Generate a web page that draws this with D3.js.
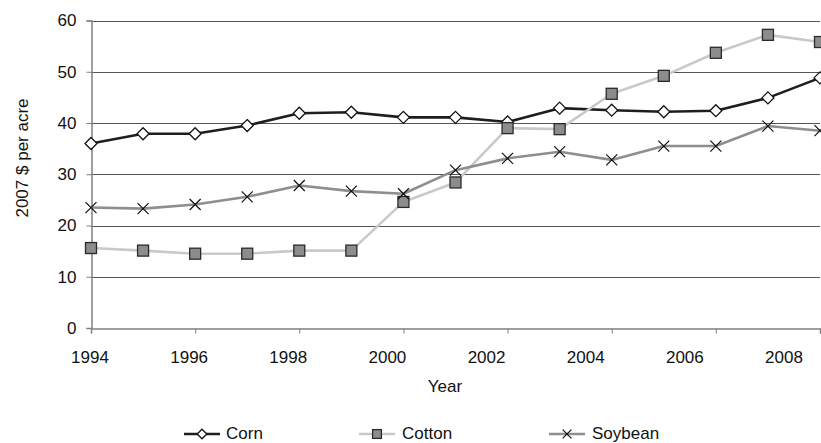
<!DOCTYPE html>
<html>
<head>
<meta charset="utf-8">
<script src="https://cdn.jsdelivr.net/npm/d3@7"></script>
<style>
  html, body { margin: 0; padding: 0; background: #fff; }
  svg { display: block; font-family: "Liberation Sans", Arial, sans-serif; }
</style>
</head>
<body>
<svg id="chart" width="821" height="443"></svg>
<script>
// Crop production costs, 2007 dollars per acre
const years = [1994, 1995, 1996, 1997, 1998, 1999, 2000, 2001, 2002, 2003, 2004, 2005, 2006, 2007, 2008];
const corn = [36.0, 37.9, 37.9, 39.5, 41.9, 42.1, 41.1, 41.1, 40.2, 42.9, 42.5, 42.2, 42.4, 44.9, 48.8];
const cotton = [15.6, 15.1, 14.5, 14.5, 15.1, 15.1, 24.6, 28.4, 39.0, 38.8, 45.7, 49.2, 53.7, 57.2, 55.8];
const soybean = [23.5, 23.3, 24.1, 25.6, 27.8, 26.7, 26.2, 30.8, 33.1, 34.4, 32.8, 35.5, 35.5, 39.4, 38.5];
const yTicks = [0, 10, 20, 30, 40, 50, 60];
const xTickYears = [1994, 1996, 1998, 2000, 2002, 2004, 2006, 2008];

const series = [
  { name: "Corn", values: corn, line: "#1e1e1e", marker: "diamond" },
  { name: "Cotton", values: cotton, line: "#c9c9c9", marker: "square" },
  { name: "Soybean", values: soybean, line: "#8e8e8e", marker: "cross" }
];

const svg = d3.select("#chart");
const plotLeft = 91, plotRight = 820, plotTop = 20.5, plotBottom = 328;

const x = d3.scaleLinear().domain([1994, 2008]).range([plotLeft, plotRight]);
const xLabel = d3.scaleLinear().domain([1994, 2008]).range([90, 784]);
const y = d3.scaleLinear().domain([0, 60]).range([plotBottom, plotTop]);

// horizontal gridlines
svg.append("g")
  .selectAll("line")
  .data(yTicks.filter(d => d > 0))
  .join("line")
  .attr("x1", plotLeft).attr("x2", plotRight)
  .attr("y1", d => Math.round(y(d)) + 0.5).attr("y2", d => Math.round(y(d)) + 0.5)
  .attr("stroke", "#555")
  .attr("stroke-width", 1);

// y axis
const yAxis = svg.append("g")
  .attr("transform", `translate(${plotLeft + 0.5},0)`)
  .call(d3.axisLeft(y).tickValues(yTicks).tickSize(5).tickPadding(10));
yAxis.select(".domain").attr("stroke", "#808080").attr("stroke-width", 1.5);
yAxis.selectAll(".tick line").attr("stroke", "#808080");
yAxis.selectAll(".tick text").attr("font-size", 17).attr("fill", "#111")
  .attr("font-family", "Liberation Sans, Arial, sans-serif");

// x axis: ticks on categories, labels placed on their own scale
const xAxis = svg.append("g")
  .attr("transform", `translate(0,${plotBottom + 0.5})`)
  .call(d3.axisBottom(x).tickValues(xTickYears).tickSize(5).tickFormat(""));
xAxis.select(".domain").attr("stroke", "#808080").attr("stroke-width", 1.5);
xAxis.selectAll(".tick line").attr("stroke", "#808080");

svg.append("g")
  .selectAll("text")
  .data(xTickYears)
  .join("text")
  .attr("x", d => xLabel(d))
  .attr("y", 363)
  .attr("text-anchor", "middle")
  .attr("font-size", 17)
  .attr("fill", "#111")
  .text(d => d);

// axis titles
svg.append("text")
  .attr("transform", "translate(28,158) rotate(-90)")
  .attr("text-anchor", "middle")
  .attr("font-size", 17)
  .attr("fill", "#111")
  .text("2007 $ per acre");

svg.append("text")
  .attr("x", 445).attr("y", 392)
  .attr("text-anchor", "middle")
  .attr("font-size", 17)
  .attr("fill", "#111")
  .text("Year");

// marker drawing
function drawMarker(g, type, cx, cy, scale) {
  const s = scale || 1;
  if (type === "diamond") {
    const r = 6 * s;
    g.append("path")
      .attr("d", `M${cx},${cy - r}L${cx + r},${cy}L${cx},${cy + r}L${cx - r},${cy}Z`)
      .attr("fill", "#fff").attr("stroke", "#111").attr("stroke-width", 1.3);
  } else if (type === "square") {
    const h = 5.5 * s;
    g.append("rect")
      .attr("x", cx - h).attr("y", cy - h)
      .attr("width", 2 * h).attr("height", 2 * h)
      .attr("fill", "#8c8c8c").attr("stroke", "#2a2a2a").attr("stroke-width", 1.3);
  } else {
    const h = 5.5 * s;
    g.append("path")
      .attr("d", `M${cx - h},${cy - h}L${cx + h},${cy + h}M${cx - h},${cy + h}L${cx + h},${cy - h}`)
      .attr("stroke", "#111").attr("stroke-width", 1.2).attr("fill", "none");
  }
}

const line = d3.line().x((d, i) => x(years[i])).y(d => y(d));

series.forEach(s => {
  const g = svg.append("g");
  g.append("path")
    .datum(s.values)
    .attr("d", line)
    .attr("fill", "none")
    .attr("stroke", s.line)
    .attr("stroke-width", 2.6)
    .attr("stroke-linejoin", "round");
  s.values.forEach((v, i) => drawMarker(g, s.marker, x(years[i]), y(v)));
});

// legend
const legendItems = [
  { s: series[0], x0: 184, tx: 226 },
  { s: series[1], x0: 359, tx: 402 },
  { s: series[2], x0: 549, tx: 592 }
];
const ly = 434;
legendItems.forEach(it => {
  const g = svg.append("g");
  g.append("line")
    .attr("x1", it.x0).attr("x2", it.x0 + 36)
    .attr("y1", ly).attr("y2", ly)
    .attr("stroke", it.s.line).attr("stroke-width", 2.6);
  drawMarker(g, it.s.marker, it.x0 + 18, ly, 0.8);
  g.append("text")
    .attr("x", it.tx).attr("y", ly + 5)
    .attr("font-size", 17)
    .attr("fill", "#111")
    .text(it.s.name);
});
</script>
</body>
</html>
